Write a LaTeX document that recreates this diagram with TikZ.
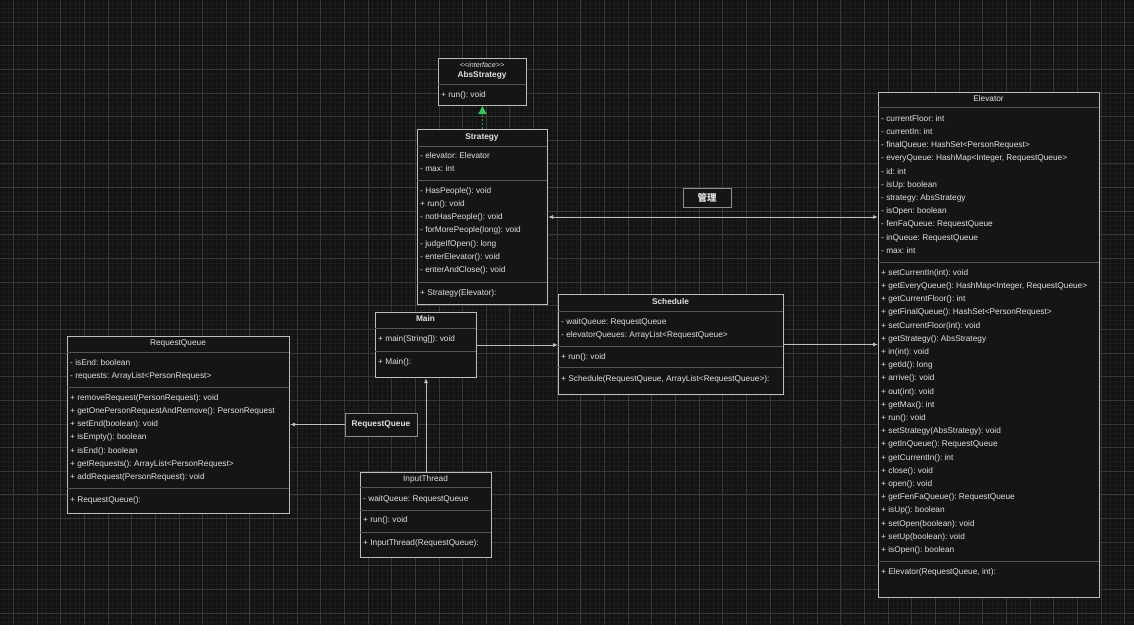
\documentclass[tikz,border=0pt]{standalone}
\usepackage{fontspec}
\setmainfont{Liberation Sans}
\newfontfamily\cjk{Noto Sans CJK SC}
\usetikzlibrary{arrows.meta}
\frenchspacing
\definecolor{bgdark}{HTML}{131313}
\definecolor{gridminor}{HTML}{1C1C1C}
\definecolor{gridmajor}{HTML}{383838}
\definecolor{boxfill}{HTML}{151515}
\definecolor{boxline}{HTML}{BDBDBD}
\definecolor{sepcol}{HTML}{565656}
\definecolor{txtcol}{HTML}{E2E2E2}
\definecolor{implgreen}{HTML}{2A9A43}
\definecolor{tipgreen}{HTML}{3CC25A}
\tikzstyle{classbox}=[draw=boxline,fill=boxfill,line width=1pt,anchor=north west,inner sep=0pt]
\tikzstyle{member}=[anchor=west,inner sep=0pt,text=txtcol,font=\fontsize{8.3}{9}\selectfont,text height=6pt,text depth=1.5pt]
\tikzstyle{title}=[member,anchor=center]
\tikzstyle{btitle}=[member,anchor=center,font=\fontsize{8.3}{9}\selectfont\bfseries]
\tikzstyle{divider}=[draw=sepcol,line width=0.8pt]
\tikzstyle{assoc}=[draw=boxline,line width=0.9pt,-{Latex[length=5pt,width=4pt]}]
\tikzstyle{labelbox}=[draw=boxline!75!black,fill=boxfill,line width=1pt,inner sep=0pt,text=txtcol]

\begin{document}
\begin{tikzpicture}[x=1pt,y=-1pt]
    % background and grid
    \useasboundingbox (0,0) rectangle (1134,637);
    \fill[white] (0,0) rectangle (1134,637);
    \fill[bgdark] (0,0) rectangle (1134,625);
    \foreach \i in {0,...,239}
        \draw[gridminor,line width=0.5pt] ({3.94+4.728*\i},0) -- ++(0,625);
    \foreach \i in {0,...,131}
        \draw[gridminor,line width=0.5pt] (0,{3.09+4.728*\i}) -- ++(1134,0);
    \foreach \i in {0,...,47}
        \draw[gridmajor,line width=0.7pt] ({13.4+23.64*\i},0) -- ++(0,625);
    \foreach \i in {0,...,25}
        \draw[gridmajor,line width=0.7pt] (0,{22+23.64*\i}) -- ++(1134,0);

    % AbsStrategy
    \node[classbox,minimum width=88pt,minimum height=47pt] (absstrategy) at (438,58) {};
    \node[title,font=\fontsize{7.2}{8}\selectfont\itshape] (abs-st) at (482,65) {{<}{<}interface{>}{>}};
    \node[btitle] (abs-name) at (482,75) {AbsStrategy};
    \path[divider] (438,84) -- (526,84);
    \node[member] (abs-m1) at (441,95) {+ run(): void};

    % Strategy
    \node[classbox,minimum width=130pt,minimum height=175pt] (strategy) at (417,129) {};
    \node[btitle] (strategy-name) at (482,137.5) {Strategy};
    \path[divider] (417,146) -- (547,146);
    \foreach \txt [count=\i] in {{- elevator: Elevator},{- max: int}}
        \node[member] (strategy-a\i) at (420,{156+13*(\i-1)}) {\txt};
    \path[divider] (417,180) -- (547,180);
    \foreach \txt [count=\i] in {{- HasPeople(): void},{+ run(): void},{- notHasPeople(): void},
        {- forMorePeople(long): void},{- judgeIfOpen(): long},{- enterElevator(): void},{- enterAndClose(): void}}
        \node[member] (strategy-m\i) at (420,{191+13.2*(\i-1)}) {\txt};
    \path[divider] (417,282) -- (547,282);
    \node[member] (strategy-c) at (420,293) {+ Strategy(Elevator):};

    % Elevator
    \node[classbox,minimum width=221pt,minimum height=505pt] (elevator) at (878,92) {};
    \node[title] (elevator-name) at (988.5,99.5) {Elevator};
    \path[divider] (878,107) -- (1099,107);
    \foreach \txt [count=\i] in {{- currentFloor: int},{- currentIn: int},{- finalQueue: HashSet<PersonRequest>},
        {- everyQueue: HashMap<Integer, RequestQueue>},{- id: int},{- isUp: boolean},{- strategy: AbsStrategy},
        {- isOpen: boolean},{- fenFaQueue: RequestQueue},{- inQueue: RequestQueue},{- max: int}}
        \node[member] (elevator-a\i) at (881,{119+13.2*(\i-1)}) {\txt};
    \path[divider] (878,262) -- (1099,262);
    \foreach \txt [count=\i] in {{+ setCurrentIn(int): void},{+ getEveryQueue(): HashMap<Integer, RequestQueue>},
        {+ getCurrentFloor(): int},{+ getFinalQueue(): HashSet<PersonRequest>},{+ setCurrentFloor(int): void},
        {+ getStrategy(): AbsStrategy},{+ in(int): void},{+ getId(): long},{+ arrive(): void},{+ out(int): void},
        {+ getMax(): int},{+ run(): void},{+ setStrategy(AbsStrategy): void},{+ getInQueue(): RequestQueue},
        {+ getCurrentIn(): int},{+ close(): void},{+ open(): void},{+ getFenFaQueue(): RequestQueue},
        {+ isUp(): boolean},{+ setOpen(boolean): void},{+ setUp(boolean): void},{+ isOpen(): boolean}}
        \node[member] (elevator-m\i) at (881,{273+13.2*(\i-1)}) {\txt};
    \path[divider] (878,561) -- (1099,561);
    \node[member] (elevator-c) at (881,572) {+ Elevator(RequestQueue, int):};

    % Main
    \node[classbox,minimum width=101pt,minimum height=65pt] (main) at (375,312) {};
    \node[btitle] (main-name) at (425.5,319.5) {Main};
    \path[divider] (375,328) -- (476,328);
    \node[member] (main-m1) at (378,339) {+ main(String[]): void};
    \path[divider] (375,351) -- (476,351);
    \node[member] (main-c) at (378,362) {+ Main():};

    % Schedule
    \node[classbox,minimum width=225pt,minimum height=100pt] (schedule) at (558,294) {};
    \node[btitle] (schedule-name) at (670.5,302) {Schedule};
    \path[divider] (558,311) -- (783,311);
    \node[member] (schedule-a1) at (561,322) {- waitQueue: RequestQueue};
    \node[member] (schedule-a2) at (561,335) {- elevatorQueues: ArrayList<RequestQueue>};
    \path[divider] (558,346) -- (783,346);
    \node[member] (schedule-m1) at (561,357) {+ run(): void};
    \path[divider] (558,367) -- (783,367);
    \node[member] (schedule-c) at (561,379) {+ Schedule(RequestQueue, ArrayList<RequestQueue>):};

    % RequestQueue
    \node[classbox,minimum width=222pt,minimum height=177pt] (requestqueue) at (67,336) {};
    \node[title] (requestqueue-name) at (178,343.5) {RequestQueue};
    \path[divider] (67,352) -- (289,352);
    \node[member] (requestqueue-a1) at (70,363) {- isEnd: boolean};
    \node[member] (requestqueue-a2) at (70,376) {- requests: ArrayList<PersonRequest>};
    \path[divider] (67,387) -- (289,387);
    \foreach \txt [count=\i] in {{+ removeRequest(PersonRequest): void},{+ getOnePersonRequestAndRemove(): PersonRequest},
        {+ setEnd(boolean): void},{+ isEmpty(): boolean},{+ isEnd(): boolean},
        {+ getRequests(): ArrayList<PersonRequest>},{+ addRequest(PersonRequest): void}}
        \node[member] (requestqueue-m\i) at (70,{398+13.2*(\i-1)}) {\txt};
    \path[divider] (67,488) -- (289,488);
    \node[member] (requestqueue-c) at (70,500) {+ RequestQueue():};

    % InputThread
    \node[classbox,minimum width=131pt,minimum height=85pt] (inputthread) at (360,472) {};
    \node[title] (inputthread-name) at (425.5,479.5) {InputThread};
    \path[divider] (360,487) -- (491,487);
    \node[member] (inputthread-a1) at (363,499) {- waitQueue: RequestQueue};
    \path[divider] (360,510) -- (491,510);
    \node[member] (inputthread-m1) at (363,520) {+ run(): void};
    \path[divider] (360,532) -- (491,532);
    \node[member] (inputthread-c) at (363,543) {+ InputThread(RequestQueue):};

    % labels on connectors
    \node[labelbox,minimum width=48pt,minimum height=19pt,font=\cjk\bfseries\fontsize{9.5}{10}\selectfont] (guanli) at (707,197.5) {管理};
    \node[labelbox,minimum width=72pt,minimum height=23pt,font=\fontsize{8.3}{9}\selectfont\bfseries] (rqlabel) at (381,424.5) {RequestQueue};

    % connectors
    \draw[implgreen,line width=1.4pt,dash pattern=on 2pt off 2pt,-{Triangle[length=8pt,width=8pt,color=tipgreen]}]
        (strategy.north) -- (absstrategy.south);
    \draw[assoc,{Latex[length=5pt,width=4pt]}-{Latex[length=5pt,width=4pt]}] (strategy.east) -- (strategy.east -| elevator.west);
    \draw[assoc] (main.east) -- (main.east -| schedule.west);
    \draw[assoc] (schedule.east) -- (schedule.east -| elevator.west);
    \draw[assoc] (rqlabel.west) -- (rqlabel.west -| requestqueue.east);
    \draw[assoc] (inputthread.north) -- (main.south);
\end{tikzpicture}
\end{document}
